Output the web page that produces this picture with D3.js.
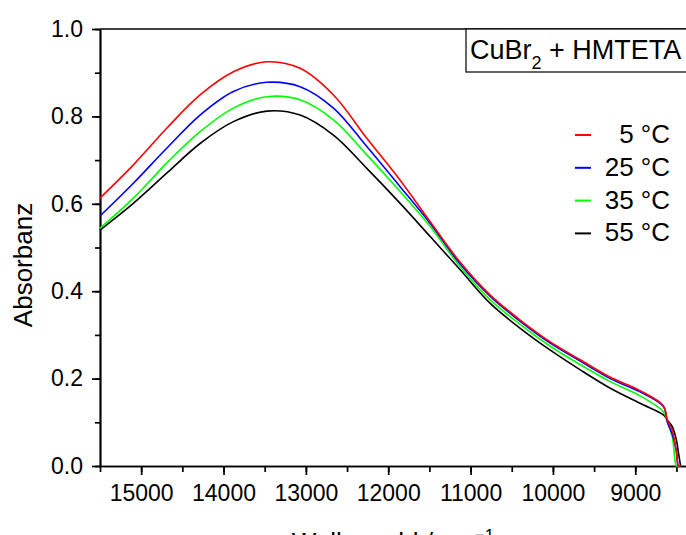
<!DOCTYPE html>
<html>
<head>
<meta charset="utf-8">
<script src="https://cdn.jsdelivr.net/npm/d3@7"></script>
<style>
  body { margin: 0; background: #fff; }
  svg { display: block; font-family: "Liberation Sans", Arial, sans-serif; }
  .axis text { font-size: 23px; fill: #000; }
  .axis line, .axis path { stroke: #000; stroke-width: 1.7; }
  .curve { fill: none; stroke-width: 1.6; }
</style>
</head>
<body>
<svg width="686" height="535"></svg>
<script>
// wavenumbers (cm^-1)
const wavenumber = [15500, 15095, 14690, 14285, 13880, 13475, 13070, 12665, 12260, 11855,
                    11490, 11126, 10761, 10397, 10032, 9668, 9303, 8936, 8659, 8610, 8550, 8500, 8475, 8450];

const abs5  = [0.613, 0.689, 0.773, 0.849, 0.902, 0.925, 0.910, 0.849, 0.750, 0.654,
               0.559, 0.466, 0.391, 0.334, 0.284, 0.243, 0.203, 0.172, 0.138, 0.105, 0.082, 0.030, 0.0, 0.0];
const abs25 = [0.572, 0.647, 0.727, 0.803, 0.857, 0.878, 0.868, 0.819, 0.731, 0.639,
               0.555, 0.462, 0.388, 0.331, 0.281, 0.240, 0.200, 0.169, 0.136, 0.100, 0.072, 0.035, 0.0, 0.0];
const abs35 = [0.544, 0.613, 0.693, 0.765, 0.819, 0.845, 0.838, 0.792, 0.712, 0.628,
               0.548, 0.456, 0.380, 0.324, 0.274, 0.232, 0.193, 0.160, 0.124, 0.101, 0.067, 0.0, 0.0, 0.0];
const abs55 = [0.540, 0.601, 0.670, 0.738, 0.788, 0.812, 0.803, 0.757, 0.681, 0.601,
               0.525, 0.449, 0.372, 0.315, 0.265, 0.220, 0.178, 0.143, 0.117, 0.105, 0.090, 0.059, 0.030, 0.0];

const seriesNames = ['5 °C', '25 °C', '35 °C', '55 °C'];
const seriesColors = ['#ff0000', '#0000ff', '#00ff00', '#000000'];
const seriesValues = [abs5, abs25, abs35, abs55];

const xTicks = [15000, 14000, 13000, 12000, 11000, 10000, 9000];
const yTicks = [0, 0.2, 0.4, 0.6, 0.8, 1.0];

const svg = d3.select('svg');

const x = d3.scaleLinear().domain([15500, 8384]).range([100, 686]);
const y = d3.scaleLinear().domain([0, 1]).range([466, 29]);

// top frame line
svg.append('line')
    .attr('x1', x.range()[0]).attr('x2', 686)
    .attr('y1', y(1)).attr('y2', y(1))
    .attr('stroke', '#000').attr('stroke-width', 1.6);

// minor ticks
svg.append('g')
    .attr('class', 'axis')
    .attr('transform', `translate(0,${y(0)})`)
    .call(d3.axisBottom(x).tickValues(d3.range(15500, 8300, -500)).tickSize(6).tickSizeOuter(0).tickFormat(''));
svg.append('g')
    .attr('class', 'axis')
    .attr('transform', `translate(${x(15500)},0)`)
    .call(d3.axisLeft(y).tickValues(d3.range(0, 1.01, 0.1)).tickSize(5).tickSizeOuter(0).tickFormat(''));

// major ticks with labels
svg.append('g')
    .attr('class', 'axis')
    .attr('transform', `translate(0,${y(0)})`)
    .call(d3.axisBottom(x).tickValues(xTicks).tickSize(9).tickSizeOuter(0).tickPadding(10).tickFormat(d3.format('d')));
svg.append('g')
    .attr('class', 'axis')
    .attr('transform', `translate(${x(15500)},0)`)
    .call(d3.axisLeft(y).tickValues(yTicks).tickSize(8).tickSizeOuter(0).tickPadding(9).tickFormat(d3.format('.1f')));

// curves, drawn back to front
const line = d3.line()
    .x((d, i) => x(wavenumber[i]))
    .y(d => y(d))
    .curve(d3.curveCatmullRom.alpha(0.5));

for (let s = seriesValues.length - 1; s >= 0; s--) {
    svg.append('path')
        .attr('class', 'curve')
        .attr('stroke', seriesColors[s])
        .attr('d', line(seriesValues[s]));
}

// axis titles
svg.append('text')
    .attr('transform', 'translate(32,265) rotate(-90)')
    .attr('text-anchor', 'middle')
    .attr('font-size', 26)
    .text('Absorbanz');

const xt = svg.append('text')
    .attr('x', 393).attr('y', 551)
    .attr('text-anchor', 'middle')
    .attr('font-size', 26);
xt.append('tspan').text('Wellenzahl / cm');
xt.append('tspan').attr('dy', -10).attr('font-size', 17).text('−1');

// sample box
svg.append('rect')
    .attr('x', 466).attr('y', 29)
    .attr('width', 230).attr('height', 43)
    .attr('fill', '#fff').attr('stroke', '#000').attr('stroke-width', 1.2);
const bt = svg.append('text').attr('x', 470).attr('y', 58.5).attr('font-size', 27);
bt.append('tspan').text('CuBr');
bt.append('tspan').attr('dy', 10).attr('font-size', 18).text('2');
bt.append('tspan').attr('dy', -10).text(' + HMTETA');

// legend
const legend = svg.append('g');
seriesNames.forEach((name, i) => {
    const yy = 135 + i * 32.8;
    legend.append('line')
        .attr('x1', 575).attr('x2', 591)
        .attr('y1', yy).attr('y2', yy)
        .attr('stroke', seriesColors[i]).attr('stroke-width', 2);
    legend.append('text')
        .attr('x', 670).attr('y', yy + 8)
        .attr('text-anchor', 'end')
        .attr('font-size', 26)
        .text(name);
});
</script>
</body>
</html>
